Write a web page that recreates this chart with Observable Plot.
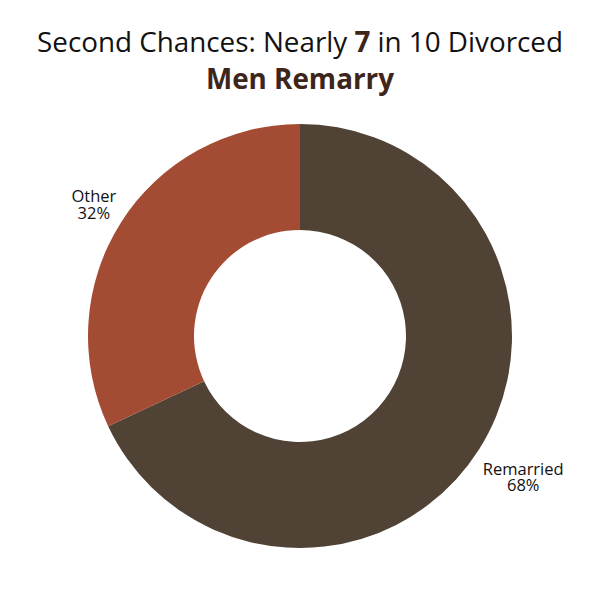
<!DOCTYPE html>
<html><head><meta charset="utf-8">
<script src="https://cdn.jsdelivr.net/npm/d3@7"></script>
<script src="https://cdn.jsdelivr.net/npm/@observablehq/plot@0.6"></script>
<style>
body{margin:0;background:#fff;font-family:"Open Sans",sans-serif;}
#title{padding-top:23px;height:74px;text-align:center;font-size:27.8px;line-height:37px;color:#111;}
.b{font-weight:700;color:#3e2519;}
</style></head><body>
<div id="title">Second Chances: Nearly <span class="b">7</span> in 10 Divorced<br><span class="b">Men Remarry</span></div>
<div id="chart"></div>
<script>
const categories = ["Remarried", "Other"];
const shares = [68, 32];
const colors = ["#504235", "#a44c33"];

const W = 600, H = 478;
const outerR = 212, innerR = 106;

const table = categories.map((c, i) => ({category: c, share: shares[i], color: colors[i]}));
const arcs = d3.pie().sort(null).value(d => d.share)(table);

const labels = arcs.map(a => {
  const mid = (a.startAngle + a.endAngle) / 2;
  const r = outerR + 9 + a.data.category.length * 4.75;
  return {x: r * Math.sin(mid), y: -r * Math.cos(mid), text: `${a.data.category}\n${a.data.share}%`};
});

function donut(index, scales) {
  const cx = scales.x(0), cy = scales.y(0);
  const k = scales.x(1) - scales.x(0);
  const arc = d3.arc().innerRadius(innerR * k).outerRadius(outerR * k);
  const g = d3.create("svg:g").attr("transform", `translate(${cx},${cy})`);
  g.selectAll("path").data(arcs).join("path")
    .attr("d", arc)
    .attr("fill", d => d.data.color);
  return g.node();
}

const chart = Plot.plot({
  width: W, height: H,
  margin: 0,
  style: {fontFamily: '"Open Sans", sans-serif', background: "#fff"},
  x: {type: "linear", domain: [-W / 2, W / 2], range: [0, W], axis: null},
  y: {type: "linear", domain: [-H / 2, H / 2], range: [0, H], axis: null},
  marks: [
    donut,
    Plot.text(labels, {x: "x", y: "y", text: "text", fontSize: 16.5, fill: "#111", lineHeight: 1.0, textAnchor: "middle"})
  ]
});
document.getElementById("chart").appendChild(chart);
</script>
</body></html>
